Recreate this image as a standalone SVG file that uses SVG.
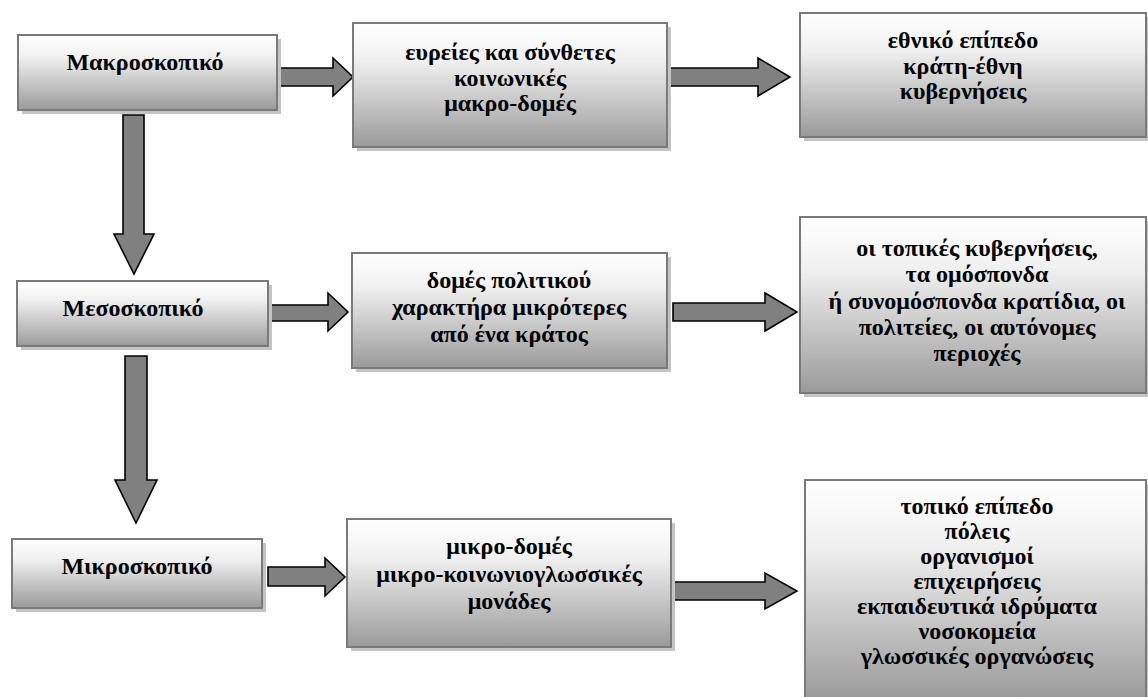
<svg xmlns="http://www.w3.org/2000/svg" width="1148" height="697" viewBox="0 0 1148 697">
<defs>
<linearGradient id="g" x1="0" y1="0" x2="0" y2="1">
<stop offset="0" stop-color="#ffffff"/>
<stop offset="0.3" stop-color="#f0f0f0"/>
<stop offset="1" stop-color="#9a9a9a"/>
</linearGradient>
<style>
.sh{fill:#c4c4c4;}
.bx{fill:url(#g);stroke:#7a7a7a;stroke-width:2;}
.t{font-family:"Liberation Serif","Times New Roman",serif;font-weight:bold;font-size:24px;fill:#000;text-anchor:middle;}
.ar{fill:#808080;stroke:#000;stroke-width:1.6;stroke-linejoin:miter;}
</style>
</defs>
<rect width="1148" height="697" fill="#fff"/>
<g id="connectors">
<path class="ar" d="M277,68 H333 V58 L353,77 L333,96 V86 H277 Z"/>
<path class="ar" d="M667,68 H758 V58 L790,77 L758,96 V86 H667 Z"/>
<path class="ar" d="M270,305 H328 V293 L348,312 L328,331 V321 H270 Z"/>
<path class="ar" d="M673,303 H765 V293 L797,312 L765,331 V321 H673 Z"/>
<path class="ar" d="M268,567 H325 V558 L345,577 L325,596 V586 H268 Z"/>
<path class="ar" d="M673,582 H765 V573 L797,591 L765,609 V600 H673 Z"/>
<path class="ar" d="M123,115 V234 H114 L134,274 L154,234 H144 V115 Z"/>
<path class="ar" d="M125,356 V480 H115 L136,523 L157,480 H147 V356 Z"/>
</g>
<g id="macro">
<rect class="sh" x="22" y="39" width="259" height="75"/>
<rect class="bx" x="18" y="35" width="259" height="75"/>
<text class="t" x="145" y="70">Μακροσκοπικό</text>
</g>
<g id="macro-structures">
<rect class="sh" x="357" y="27" width="314" height="124"/>
<rect class="bx" x="353" y="23" width="314" height="124"/>
<text class="t" x="510" y="60">ευρείες και σύνθετες</text>
<text class="t" x="510" y="86">κοινωνικές</text>
<text class="t" x="510" y="111">μακρο-δομές</text>
</g>
<g id="national">
<rect class="sh" x="804" y="17" width="346" height="124"/>
<rect class="bx" x="800" y="13" width="346" height="124"/>
<text class="t" x="963" y="48">εθνικό επίπεδο</text>
<text class="t" x="963" y="74">κράτη-έθνη</text>
<text class="t" x="963" y="99">κυβερνήσεις</text>
</g>
<g id="meso">
<rect class="sh" x="21" y="285" width="251" height="65"/>
<rect class="bx" x="17" y="281" width="251" height="65"/>
<text class="t" x="133" y="316">Μεσοσκοπικό</text>
</g>
<g id="political-structures">
<rect class="sh" x="356" y="257" width="315" height="115"/>
<rect class="bx" x="352" y="253" width="315" height="115"/>
<text class="t" x="509" y="288">δομές πολιτικού</text>
<text class="t" x="509" y="315">χαρακτήρα μικρότερες</text>
<text class="t" x="509" y="342">από ένα κράτος</text>
</g>
<g id="regional">
<rect class="sh" x="804" y="221" width="346" height="176"/>
<rect class="bx" x="800" y="217" width="346" height="176"/>
<text class="t" x="977" y="256">οι τοπικές κυβερνήσεις,</text>
<text class="t" x="977" y="282">τα ομόσπονδα</text>
<text class="t" x="977" y="309">ή συνομόσπονδα κρατίδια, οι</text>
<text class="t" x="977" y="335">πολιτείες, οι αυτόνομες</text>
<text class="t" x="977" y="361">περιοχές</text>
</g>
<g id="micro">
<rect class="sh" x="16" y="543" width="250" height="69"/>
<rect class="bx" x="12" y="539" width="250" height="69"/>
<text class="t" x="137" y="574">Μικροσκοπικό</text>
</g>
<g id="micro-structures">
<rect class="sh" x="351" y="523" width="324" height="128"/>
<rect class="bx" x="347" y="519" width="324" height="128"/>
<text class="t" x="509" y="554">μικρο-δομές</text>
<text class="t" x="509" y="582">μικρο-κοινωνιογλωσσικές</text>
<text class="t" x="509" y="609">μονάδες</text>
</g>
<g id="local">
<rect class="sh" x="809" y="484" width="341" height="220"/>
<rect class="bx" x="805" y="480" width="341" height="220"/>
<text class="t" x="977" y="514">τοπικό επίπεδο</text>
<text class="t" x="977" y="539">πόλεις</text>
<text class="t" x="977" y="564">οργανισμοί</text>
<text class="t" x="977" y="589">επιχειρήσεις</text>
<text class="t" x="977" y="614">εκπαιδευτικά ιδρύματα</text>
<text class="t" x="977" y="639">νοσοκομεία</text>
<text class="t" x="977" y="664">γλωσσικές οργανώσεις</text>
</g>
</svg>
